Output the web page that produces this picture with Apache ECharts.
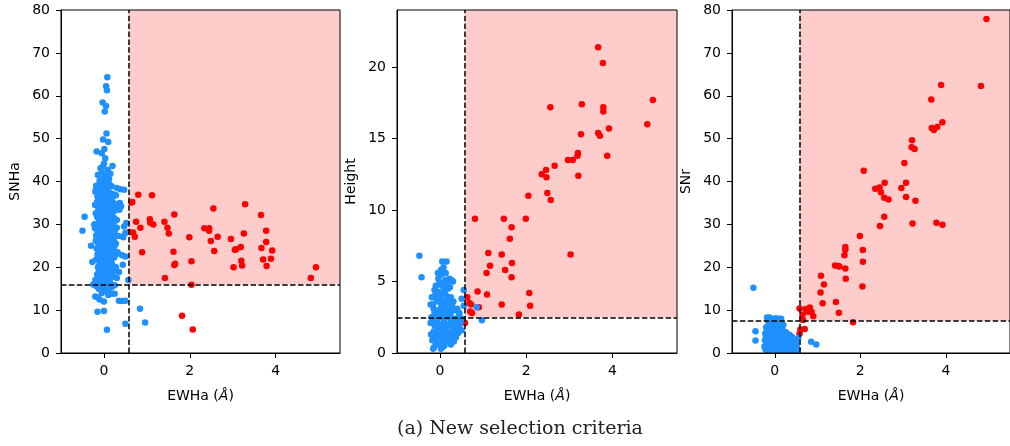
<!DOCTYPE html>
<html><head><meta charset="utf-8">
<script src="https://cdn.jsdelivr.net/npm/echarts@6/dist/echarts.min.js"></script>
<style>html,body{margin:0;padding:0;background:#fff}#c{width:1010px;height:446px}</style>
</head><body><div id="c"></div>
<script>
const xTickValues = [0, 2, 4];
const yNames = ['SNHa', 'Height', 'SNr'];
const xCut = 0.58;
const yCuts = [16, 2.5, 7.5];
const caption = '(a) New selection criteria';

const p1Blue = [
[0.08,64.3],[0.05,62.2],[0.07,61.3],[-0.03,58.4],[0.05,57.6],[0.02,56.3],[0.06,51.2],[0.10,49.2],[-0.02,49.8],[0.01,47.6],[-0.17,47.0],[-0.05,46.6],[0.03,45.4],[0.20,43.6],[0.00,44.2],[-0.08,43.1],[0.09,42.7],[-0.05,42.2],[0.03,41.3],[0.12,40.6],[-0.10,40.1],[0.06,39.6],[-0.14,41.5],[0.15,41.8],[-0.02,43.5],
[-0.12,38.9],[-0.05,38.7],[0.02,38.5],[0.10,38.8],[0.18,38.9],[-0.18,38.2],[0.05,37.8],[-0.08,37.5],[0.14,37.4],[0.22,37.0],[0.28,36.8],[-0.15,36.5],[-0.02,36.4],[0.08,36.2],[0.17,35.9],[-0.10,35.6],[0.03,35.3],[0.12,35.0],[-0.20,34.6],[-0.06,34.5],[0.20,34.3],[0.00,34.0],[0.09,33.8],[-0.13,33.5],[0.15,33.3],[0.25,33.2],[-0.03,33.0],[0.05,32.7],[-0.09,32.4],[0.11,32.2],[0.19,32.0],[-0.16,31.8],[0.01,31.6],[0.07,31.3],[-0.05,31.0],[0.14,30.9],[0.23,30.6],[-0.11,30.4],[0.03,30.2],[-0.22,30.0],[0.10,29.8],[-0.02,29.5],[0.17,29.3],[0.30,29.2],[-0.08,29.0],[0.05,28.7],[-0.15,28.5],[0.12,28.3],[0.21,28.0],[-0.04,27.8],[0.08,27.6],[-0.18,27.4],[0.00,27.2],[0.15,27.0],[0.27,27.3],[-0.10,26.8],[0.04,26.5],[0.10,26.3],[-0.06,26.0],[0.19,25.8],[-0.13,25.5],[0.02,25.3],[0.12,25.0],[0.24,24.8],[-0.03,24.6],[0.07,24.3],[-0.09,24.0],[0.16,23.8],[0.00,23.5],[0.10,23.2],[-0.15,23.0],[0.05,22.8],[0.20,22.5],[-0.05,22.3],[0.12,22.0],[-0.02,21.7],[0.08,21.4],[0.17,21.2],[-0.10,21.0],[0.03,20.7],[0.13,20.4],[-0.06,20.1],[0.06,19.8],[0.22,19.9],[-0.01,19.5],[0.10,19.2],[-0.12,19.0],[0.04,18.7],[0.15,18.4],[-0.04,18.1],[0.08,17.8],[-0.08,17.4],[0.02,17.0],[0.12,16.7],[-0.14,16.5],[-0.03,16.2],[0.06,15.8],[-0.18,15.6],[0.00,15.2],
[-0.07,39.5],[0.13,39.3],[0.00,37.0],[-0.12,34.9],[0.07,34.6],[0.18,31.0],[-0.07,28.0],[0.09,30.5],[-0.01,25.9],[0.14,26.7],[-0.03,23.9],[0.11,24.1],[0.00,21.0],[0.09,18.3],[-0.02,31.9],[0.03,28.9],[0.05,35.8],[-0.10,32.9],[0.16,28.9],[-0.04,20.5],
[-0.20,37.6],[-0.16,35.2],[-0.19,32.6],[-0.21,29.1],[-0.19,26.2],[-0.17,24.4],[-0.18,21.8],[-0.14,20.0],[-0.16,18.3],[-0.11,17.8],[0.20,36.4],[0.23,34.9],[0.21,33.1],[0.24,31.5],[0.22,29.9],[0.25,28.4],[0.23,26.1],[0.21,24.0],[0.24,22.3],[0.19,20.7],[0.22,18.9],[0.16,17.5],[0.04,39.9],[-0.09,38.0],[0.11,36.9],[-0.04,35.0],[0.16,34.7],[-0.07,33.4],[0.07,33.0],[0.13,31.8],[-0.12,31.2],[0.03,29.7],[-0.13,29.5],[0.19,27.7],[-0.09,27.1],[0.06,25.7],[-0.08,25.0],[0.17,24.6],[-0.12,23.6],[0.04,22.0],[-0.09,22.6],[0.15,22.6],[-0.06,19.2],[0.14,19.6],[0.01,18.0],[-0.11,16.9],[0.09,16.3],[0.18,15.4],[0.27,22.9],[0.26,19.1],[0.28,25.5],[0.30,31.0],[-0.01,40.8],[0.07,40.3],[-0.04,26.9],[0.02,24.1],[0.10,27.3],[-0.02,34.7],[0.13,36.0],[-0.14,37.3],
[0.30,38.5],[0.38,38.2],[0.47,38.1],[0.37,35.0],[0.36,33.4],[0.40,34.2],[0.30,33.8],[0.52,30.3],[0.47,29.5],[0.45,27.0],[0.50,28.0],[0.35,27.3],[0.42,22.8],[0.50,22.5],[0.32,23.5],[0.28,20.0],[0.44,20.6],[0.57,17.0],[0.30,17.5],[0.35,12.2],[0.42,12.1],[0.50,12.2],[0.18,13.9],[0.25,13.8],[0.10,13.5],[0.00,12.0],[-0.10,12.5],[-0.20,13.2],[-0.15,13.0],[0.15,16.2],[0.20,18.0],[0.10,15.0],[0.06,14.5],[0.25,15.8],[0.35,18.9],
[-0.50,28.5],[-0.45,31.8],[-0.30,25.0],[-0.27,21.2],[-0.20,17.0],[-0.25,16.0],[-0.22,30.0],[-0.20,34.5],[-0.18,39.0],[-0.15,9.6],[0.00,9.8],[0.07,5.4],[0.50,6.8],[0.84,10.3],[0.96,7.1],[-0.05,14.0],[-0.12,15.0]
];
const p1Red = [
[0.80,36.9],[1.12,36.8],[0.64,35.1],[0.66,35.2],[3.29,34.7],[2.55,33.7],[1.64,32.3],[3.66,32.2],[0.75,30.6],[1.07,31.2],[1.08,30.4],[1.15,30.0],[1.41,30.6],[1.48,29.2],[1.51,27.9],[0.85,29.2],[0.68,28.1],[0.72,27.1],[0.59,28.2],[2.34,29.1],[2.45,29.1],[2.45,28.5],[2.65,27.1],[2.49,26.1],[1.99,27.0],[2.96,26.6],[3.26,27.9],[3.78,28.5],[3.78,25.9],[3.67,24.5],[3.92,23.9],[3.19,24.7],[3.08,24.2],[3.05,24.1],[2.57,23.8],[1.62,23.6],[0.89,23.5],[2.04,21.4],[1.66,20.8],[1.64,20.5],[3.20,21.5],[3.22,20.4],[3.02,20.0],[3.71,21.8],[3.89,22.0],[3.79,20.3],[4.94,20.0],[4.82,17.5],[1.42,17.5],[2.04,15.9],[1.82,8.7],[2.07,5.5]
];

const p2Blue = [
[-0.48,6.8],[-0.43,5.3],[0.85,3.2],[0.97,2.3],[0.05,6.4],[0.15,6.4],[0.08,6.0],[-0.05,5.6],[0.03,5.5],[-0.04,5.2],[0.30,5.0],[0.22,5.2],[0.26,5.1],[0.12,5.1],[0.55,4.4],[0.50,3.8],[0.55,3.3],[-0.22,3.4],[-0.17,3.4],[-0.10,4.7],[0.02,4.9],[0.10,4.6],[-0.06,4.3],[0.18,4.5],[0.05,4.2],[-0.12,4.0],[0.14,4.0],[0.25,3.9],[0.00,3.8],[-0.08,3.6],[0.20,3.6],[0.08,3.5],[-0.15,3.1],[0.03,3.3],[0.28,3.3],[0.12,3.1],[-0.04,3.0],[0.17,2.9],[0.35,3.0],[0.06,2.8],[-0.10,2.7],[0.23,2.7],[0.45,2.8],[0.00,2.5],[-0.20,2.5],[0.14,2.5],[0.30,2.4],[-0.07,2.3],[0.09,2.2],[0.40,2.3],[0.52,2.4],[-0.22,2.1],[0.03,2.0],[0.19,2.0],[-0.12,1.9],[0.27,1.9],[0.47,2.1],[0.10,1.8],[-0.03,1.7],[0.35,1.6],[0.15,1.5],[-0.15,1.5],[0.05,1.4],[0.22,1.3],[0.42,1.4],[-0.08,1.2],[0.12,1.1],[0.30,1.0],[0.00,1.0],[-0.18,0.9],[0.18,0.8],[0.07,0.7],[-0.05,0.6],[0.25,0.6],[-0.14,0.4],[0.10,0.5],[-0.16,0.3],[0.02,0.3],[0.32,0.8],[0.38,1.9],[0.44,2.6],[-0.02,3.9],[0.15,3.3],[0.07,4.6],[-0.13,2.8],[0.25,2.2],[0.33,1.4],[-0.01,1.3],[0.20,0.9],[0.13,2.6],[0.04,1.9],[-0.09,1.6],[0.36,2.0],[0.50,1.6],
[-0.21,1.3],[-0.19,3.9],[-0.16,2.2],[-0.13,4.4],[-0.11,1.0],[-0.06,2.0],[-0.04,4.8],[0.01,2.7],[0.04,3.6],[0.06,1.2],[0.09,3.0],[0.11,4.2],[0.14,1.9],[0.16,3.8],[0.19,1.5],[0.21,3.1],[0.23,4.6],[0.26,2.9],[0.29,1.6],[0.31,3.6],[0.34,2.4],[0.37,1.1],[0.40,3.1],[0.46,1.7],[0.05,0.4],[0.27,0.9],[-0.10,0.7],[0.17,4.9],[0.02,5.8],[0.13,5.6]
];
const p2Red = [
[3.67,21.4],[3.78,20.3],[4.94,17.7],[4.81,16.0],[2.56,17.2],[3.29,17.4],[3.79,17.2],[3.79,16.9],[3.92,15.7],[3.67,15.4],[3.71,15.2],[3.27,15.3],[3.88,13.8],[3.20,14.0],[3.19,13.8],[2.97,13.5],[3.08,13.5],[3.21,12.4],[2.66,13.1],[2.46,12.8],[2.36,12.5],[2.47,12.3],[2.05,11.0],[2.49,11.2],[2.57,10.7],[0.81,9.4],[1.48,9.4],[1.99,9.4],[1.66,8.8],[1.62,8.0],[3.03,6.9],[1.12,7.0],[1.43,6.9],[1.67,6.3],[1.16,6.1],[1.51,5.8],[1.08,5.6],[1.66,5.3],[0.87,4.3],[1.09,4.1],[2.07,4.2],[1.43,3.4],[2.09,3.3],[1.83,2.7],[0.63,3.9],[0.68,3.5],[0.72,3.4],[0.70,2.9],[0.74,2.8],[0.90,3.2],[0.58,2.1]
];

const p3Blue = [
[-0.50,15.2],[-0.45,5.1],[-0.45,2.9],[0.85,2.6],[0.97,2.0],[-0.18,8.3],[-0.12,8.3],[0.10,8.0],[0.15,8.0],[-0.05,7.8],[0.05,7.5],[-0.15,7.3],[0.20,6.6],[0.00,7.0],[0.12,6.8],[-0.10,6.5],[0.06,6.2],[-0.20,6.0],[0.17,6.0],[-0.03,5.8],[0.10,5.5],[-0.14,5.3],[0.02,5.2],[0.22,5.0],[-0.07,4.9],[0.08,4.7],[-0.22,4.6],[0.15,4.5],[0.35,4.2],[0.40,3.8],[0.00,4.3],[-0.12,4.1],[0.26,3.9],[0.05,3.8],[-0.05,3.6],[0.18,3.5],[0.55,3.5],[0.45,3.2],[-0.18,3.4],[0.11,3.2],[0.30,3.0],[-0.09,3.0],[0.02,2.9],[0.21,2.7],[0.48,2.6],[-0.15,2.5],[0.08,2.5],[0.35,2.4],[-0.02,2.3],[0.16,2.2],[0.28,2.0],[-0.20,2.0],[0.05,1.9],[0.42,1.9],[-0.08,1.8],[0.12,1.7],[0.25,1.6],[0.52,1.2],[0.00,1.5],[-0.15,1.3],[0.19,1.3],[0.35,1.2],[0.07,1.1],[-0.06,1.0],[0.30,0.9],[0.14,0.9],[-0.22,0.9],[0.45,1.0],[0.03,0.7],[0.22,0.7],[-0.12,0.6],[0.38,0.6],[0.10,0.5],[-0.03,6.5],[0.07,4.1],[0.13,2.8],[-0.11,3.7],[0.23,4.3],[0.32,1.7],[-0.04,1.4],
[-0.24,1.5],[-0.23,3.0],[-0.21,4.0],[-0.18,5.0],[-0.17,1.1],[-0.13,2.2],[-0.10,5.8],[-0.07,2.6],[-0.05,4.5],[-0.01,3.3],[0.01,5.9],[0.04,4.6],[0.06,3.0],[0.09,1.4],[0.11,4.4],[0.14,3.7],[0.16,1.6],[0.18,5.2],[0.20,2.4],[0.24,3.3],[0.26,1.1],[0.28,2.6],[0.31,3.6],[0.33,2.2],[0.36,1.5],[0.39,2.9],[0.41,1.2],[0.43,2.3],[0.47,1.5],[0.50,2.2],[0.53,0.8],[0.27,4.8],[0.12,6.1],[-0.08,7.0],[0.02,8.1],[-0.02,0.9],[0.17,0.6],[0.33,0.6],[0.48,0.6],[-0.19,0.6]
];
const p3Red = [
[4.95,77.9],[3.89,62.5],[4.82,62.3],[3.66,59.1],[3.92,53.8],[3.80,52.7],[3.67,52.5],[3.72,52.0],[3.21,49.6],[3.20,48.0],[3.27,47.6],[3.03,44.3],[2.08,42.5],[2.57,39.7],[3.07,39.7],[2.35,38.3],[2.45,38.6],[2.48,37.5],[2.96,38.5],[2.56,36.2],[2.66,35.8],[3.07,36.4],[3.29,35.5],[2.56,31.8],[2.46,29.6],[3.22,30.2],[3.78,30.4],[3.92,29.9],[1.99,27.3],[1.65,24.7],[1.65,24.1],[1.63,22.8],[2.06,24.0],[2.06,21.3],[1.41,20.4],[1.48,20.3],[1.51,20.2],[1.65,19.7],[1.66,17.3],[2.05,15.5],[1.08,18.0],[1.15,16.0],[1.07,14.1],[1.12,11.6],[1.43,11.9],[1.50,9.4],[1.83,7.2],[0.58,10.4],[0.72,10.2],[0.82,10.6],[0.78,9.6],[0.86,9.6],[0.90,8.6],[0.65,8.9],[0.66,7.7],[0.70,5.6],[0.60,5.5],[0.58,4.5]
];

const blues = [p1Blue, p2Blue, p3Blue];
const reds = [p1Red, p2Red, p3Red];
const yMaxes = [80, 24, 80];
const yIntervals = [10, 5, 10];
const xMin = -1, xMax = 5.5;

const layout = [{left:61,width:279},{left:397,width:280},{left:732,width:279}];
const FONT = 'DejaVu Sans';
const grids = [], xAxes = [], yAxes = [], series = [];
for (let i = 0; i < 3; i++) {
  grids.push({left: layout[i].left, width: layout[i].width, top: 10, height: 343,
    show: true, borderColor: '#000', borderWidth: 1, backgroundColor: 'transparent', z: 10});
  xAxes.push({type: 'value', gridIndex: i, min: xMin, max: xMax, z: 10,
    name: 'EWHa ({i|Å})', nameLocation: 'middle', nameGap: 36,
    nameTextStyle: {fontFamily: FONT, fontSize: 14, color: '#000',
      rich: {i: {fontFamily: FONT, fontSize: 14, fontStyle: 'italic', color: '#000'}}},
    axisLine: {show: true, onZero: false, lineStyle: {color: '#000', width: 1}},
    axisTick: {show: true, length: 5, customValues: xTickValues, lineStyle: {color: '#000'}},
    axisLabel: {customValues: xTickValues, margin: 11, fontFamily: FONT, fontSize: 14, color: '#000'},
    splitLine: {show: false}});
  yAxes.push({type: 'value', gridIndex: i, min: 0, max: yMaxes[i], interval: yIntervals[i], z: 10,
    name: yNames[i], nameLocation: 'middle', nameRotate: 90, nameGap: 39,
    nameTextStyle: {fontFamily: FONT, fontSize: 14, color: '#000'},
    axisLine: {show: true, onZero: false, lineStyle: {color: '#000', width: 1}},
    axisTick: {show: true, length: 5, lineStyle: {color: '#000'}},
    axisLabel: {margin: 11, fontFamily: FONT, fontSize: 14, color: '#000', showMaxLabel: i !== 1},
    splitLine: {show: false}});
  series.push({type: 'scatter', xAxisIndex: i, yAxisIndex: i, data: [], z: 1, silent: true,
    markArea: {silent: true, itemStyle: {color: '#ffcccc', opacity: 1},
      data: [[{coord: [xCut, yCuts[i]]}, {coord: [xMax, yMaxes[i]]}]]}});
  series.push({type: 'scatter', xAxisIndex: i, yAxisIndex: i, data: reds[i], z: 2,
    symbolSize: 6.5, itemStyle: {color: '#ff0000', opacity: 1}});
  series.push({type: 'scatter', xAxisIndex: i, yAxisIndex: i, data: blues[i], z: 3,
    symbolSize: 6.5, itemStyle: {color: '#1e90ff', opacity: 1}});
  series.push({type: 'scatter', xAxisIndex: i, yAxisIndex: i, data: [], z: 4, silent: true,
    markLine: {silent: true, symbol: 'none', label: {show: false},
      lineStyle: {color: '#000', width: 1.5, type: [5.5, 2.4]},
      data: [{xAxis: xCut}, {yAxis: yCuts[i]}]}});
}
const chart = echarts.init(document.getElementById('c'), null, {renderer: 'canvas'});
chart.setOption({
  animation: false,
  grid: grids, xAxis: xAxes, yAxis: yAxes, series: series,
  graphic: [{type: 'text', left: 397, top: 420, style: {text: caption,
    fontFamily: 'DejaVu Serif', fontSize: 19, fill: '#222'}}]
});
</script></body></html>
